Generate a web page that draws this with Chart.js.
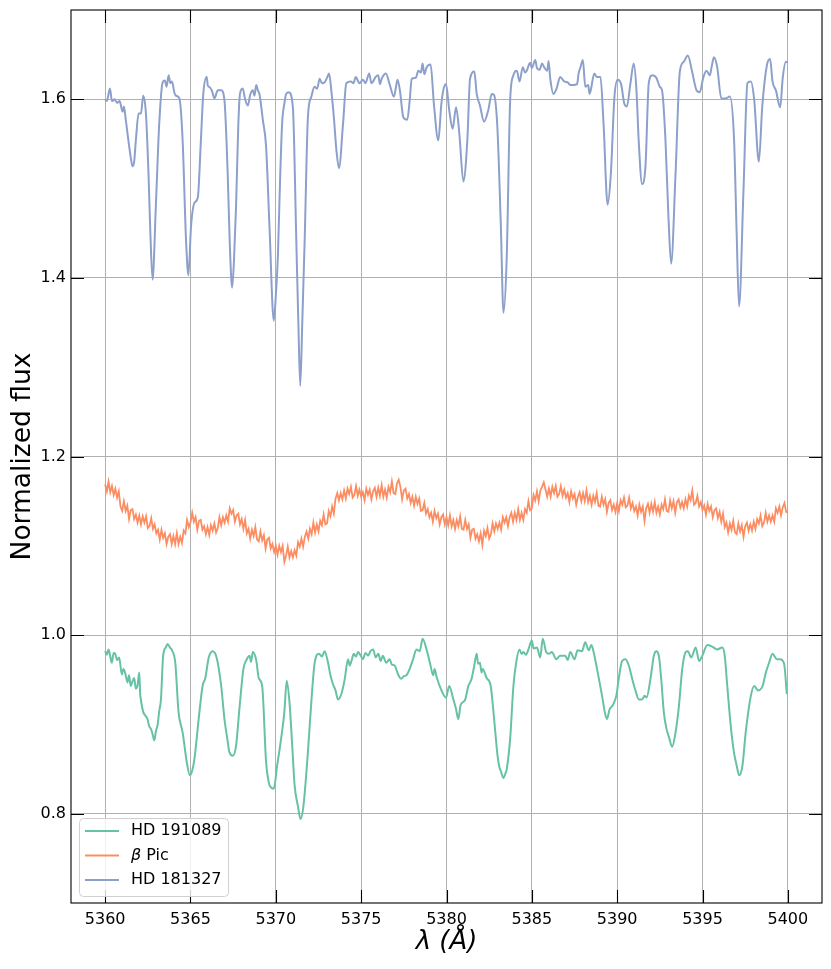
<!DOCTYPE html>
<html>
<head>
<meta charset="utf-8">
<script src="https://cdn.jsdelivr.net/npm/chart.js@4.4.1/dist/chart.umd.min.js"></script>
<style>
  html, body { margin: 0; padding: 0; background: #ffffff; }
  #wrap { width: 831px; height: 969px; position: relative; }
</style>
</head>
<body>
<div id="wrap"><canvas id="c"></canvas></div>
<script>
// ---------------- DATA ----------------
const seriesNames = ["HD 191089", "\u03B2 Pic", "HD 181327"];
const seriesColors = ["#66c2a5", "#fc8d62", "#8da0cb"];

const xTicks = [5360, 5365, 5370, 5375, 5380, 5385, 5390, 5395, 5400];
const yTicks = [0.8, 1.0, 1.2, 1.4, 1.6];

// HD 191089 (green)
const hd191089Wave = [5360.00,5360.10,5360.20,5360.30,5360.39,5360.50,5360.59,5360.70,5360.82,5360.98,5361.07,5361.17,5361.31,5361.40,5361.50,5361.60,5361.70,5361.80,5361.90,5362.00,5362.05,5362.09,5362.23,5362.35,5362.48,5362.58,5362.68,5362.78,5362.88,5362.98,5363.07,5363.17,5363.27,5363.40,5363.55,5363.66,5363.80,5363.92,5364.11,5364.30,5364.54,5364.78,5364.97,5365.10,5365.23,5365.48,5365.71,5365.87,5366.07,5366.30,5366.53,5366.80,5366.99,5367.15,5367.28,5367.48,5367.67,5367.87,5368.10,5368.30,5368.46,5368.55,5368.65,5368.85,5369.00,5369.20,5369.43,5369.60,5369.69,5369.88,5370.08,5370.31,5370.50,5370.64,5370.80,5370.95,5371.10,5371.29,5371.45,5371.62,5371.88,5372.08,5372.27,5372.53,5372.70,5372.86,5373.06,5373.20,5373.35,5373.50,5373.64,5373.84,5374.04,5374.23,5374.33,5374.43,5374.57,5374.70,5374.82,5375.00,5375.10,5375.25,5375.40,5375.55,5375.70,5375.85,5376.00,5376.15,5376.27,5376.47,5376.66,5376.80,5376.96,5377.16,5377.35,5377.50,5377.65,5377.84,5378.04,5378.24,5378.43,5378.60,5378.83,5379.03,5379.22,5379.30,5379.42,5379.71,5379.97,5380.16,5380.40,5380.55,5380.69,5380.83,5381.08,5381.28,5381.47,5381.61,5381.77,5381.85,5381.96,5382.05,5382.12,5382.35,5382.59,5382.79,5382.99,5383.10,5383.18,5383.34,5383.45,5383.53,5383.73,5383.92,5384.08,5384.27,5384.40,5384.51,5384.65,5384.80,5385.00,5385.10,5385.30,5385.49,5385.64,5385.84,5386.00,5386.17,5386.43,5386.66,5386.96,5387.10,5387.25,5387.50,5387.68,5387.94,5388.13,5388.33,5388.49,5388.62,5388.78,5388.97,5389.15,5389.27,5389.40,5389.56,5389.76,5389.96,5390.09,5390.29,5390.49,5390.68,5390.88,5391.07,5391.27,5391.46,5391.60,5391.72,5391.95,5392.15,5392.30,5392.44,5392.58,5392.73,5392.89,5393.03,5393.22,5393.42,5393.62,5393.81,5394.01,5394.14,5394.34,5394.60,5394.80,5394.99,5395.28,5395.57,5395.86,5396.16,5396.30,5396.45,5396.65,5396.84,5397.00,5397.14,5397.34,5397.53,5397.83,5398.03,5398.26,5398.52,5398.71,5398.90,5399.10,5399.35,5399.55,5399.78,5399.94];
const hd191089Flux = [0.982,0.978,0.984,0.976,0.969,0.980,0.979,0.972,0.975,0.956,0.962,0.958,0.947,0.955,0.943,0.948,0.952,0.940,0.944,0.958,0.935,0.928,0.914,0.910,0.906,0.898,0.895,0.889,0.882,0.893,0.899,0.915,0.928,0.977,0.986,0.990,0.986,0.983,0.969,0.914,0.891,0.858,0.843,0.848,0.861,0.906,0.943,0.952,0.975,0.982,0.975,0.943,0.906,0.885,0.869,0.865,0.876,0.918,0.962,0.973,0.977,0.970,0.981,0.972,0.952,0.943,0.858,0.834,0.830,0.828,0.854,0.884,0.914,0.949,0.925,0.880,0.832,0.809,0.794,0.809,0.869,0.925,0.968,0.979,0.976,0.982,0.969,0.955,0.945,0.938,0.928,0.934,0.951,0.973,0.966,0.971,0.979,0.976,0.981,0.976,0.973,0.980,0.977,0.982,0.984,0.975,0.979,0.971,0.977,0.969,0.973,0.967,0.966,0.956,0.951,0.954,0.955,0.962,0.973,0.984,0.982,0.996,0.984,0.969,0.955,0.962,0.953,0.938,0.930,0.943,0.928,0.918,0.906,0.922,0.927,0.943,0.951,0.964,0.979,0.968,0.969,0.958,0.962,0.952,0.943,0.906,0.865,0.852,0.848,0.840,0.845,0.850,0.884,0.943,0.969,0.984,0.979,0.981,0.978,0.984,0.994,0.985,0.986,0.975,0.996,0.981,0.979,0.981,0.973,0.977,0.977,0.972,0.981,0.973,0.983,0.982,0.992,0.983,0.989,0.981,0.966,0.947,0.928,0.914,0.906,0.917,0.922,0.933,0.951,0.971,0.973,0.966,0.951,0.938,0.928,0.928,0.932,0.930,0.951,0.977,0.982,0.977,0.951,0.914,0.895,0.886,0.875,0.891,0.921,0.962,0.981,0.982,0.975,0.986,0.971,0.977,0.989,0.987,0.984,0.986,0.977,0.943,0.899,0.869,0.854,0.843,0.854,0.891,0.932,0.943,0.938,0.943,0.958,0.969,0.979,0.973,0.973,0.968,0.934];

// beta Pic (orange), sampled every 0.1 A
const betaPicWave = [
5360.0,5360.1,5360.2,5360.3,5360.4,5360.5,5360.6,5360.7,5360.8,5360.9,
5361.0,5361.1,5361.2,5361.3,5361.4,5361.5,5361.6,5361.7,5361.8,5361.9,
5362.0,5362.1,5362.2,5362.3,5362.4,5362.5,5362.6,5362.7,5362.8,5362.9,
5363.0,5363.1,5363.2,5363.3,5363.4,5363.5,5363.6,5363.7,5363.8,5363.9,
5364.0,5364.1,5364.2,5364.3,5364.4,5364.5,5364.6,5364.7,5364.8,5364.9,
5365.0,5365.1,5365.2,5365.3,5365.4,5365.5,5365.6,5365.7,5365.8,5365.9,
5366.0,5366.1,5366.2,5366.3,5366.4,5366.5,5366.6,5366.7,5366.8,5366.9,
5367.0,5367.1,5367.2,5367.3,5367.4,5367.5,5367.6,5367.7,5367.8,5367.9,
5368.0,5368.1,5368.2,5368.3,5368.4,5368.5,5368.6,5368.7,5368.8,5368.9,
5369.0,5369.1,5369.2,5369.3,5369.4,5369.5,5369.6,5369.7,5369.8,5369.9,
5370.0,5370.1,5370.2,5370.3,5370.4,5370.5,5370.6,5370.7,5370.8,5370.9,
5371.0,5371.1,5371.2,5371.3,5371.4,5371.5,5371.6,5371.7,5371.8,5371.9,
5372.0,5372.1,5372.2,5372.3,5372.4,5372.5,5372.6,5372.7,5372.8,5372.9,
5373.0,5373.1,5373.2,5373.3,5373.4,5373.5,5373.6,5373.7,5373.8,5373.9,
5374.0,5374.1,5374.2,5374.3,5374.4,5374.5,5374.6,5374.7,5374.8,5374.9,
5375.0,5375.1,5375.2,5375.3,5375.4,5375.5,5375.6,5375.7,5375.8,5375.9,
5376.0,5376.1,5376.2,5376.3,5376.4,5376.5,5376.6,5376.7,5376.8,5376.9,
5377.0,5377.1,5377.2,5377.3,5377.4,5377.5,5377.6,5377.7,5377.8,5377.9,
5378.0,5378.1,5378.2,5378.3,5378.4,5378.5,5378.6,5378.7,5378.8,5378.9,
5379.0,5379.1,5379.2,5379.3,5379.4,5379.5,5379.6,5379.7,5379.8,5379.9,
5380.0,5380.1,5380.2,5380.3,5380.4,5380.5,5380.6,5380.7,5380.8,5380.9,
5381.0,5381.1,5381.2,5381.3,5381.4,5381.5,5381.6,5381.7,5381.8,5381.9,
5382.0,5382.1,5382.2,5382.3,5382.4,5382.5,5382.6,5382.7,5382.8,5382.9,
5383.0,5383.1,5383.2,5383.3,5383.4,5383.5,5383.6,5383.7,5383.8,5383.9,
5384.0,5384.1,5384.2,5384.3,5384.4,5384.5,5384.6,5384.7,5384.8,5384.9,
5385.0,5385.1,5385.2,5385.3,5385.4,5385.5,5385.6,5385.7,5385.8,5385.9,
5386.0,5386.1,5386.2,5386.3,5386.4,5386.5,5386.6,5386.7,5386.8,5386.9,
5387.0,5387.1,5387.2,5387.3,5387.4,5387.5,5387.6,5387.7,5387.8,5387.9,
5388.0,5388.1,5388.2,5388.3,5388.4,5388.5,5388.6,5388.7,5388.8,5388.9,
5389.0,5389.1,5389.2,5389.3,5389.4,5389.5,5389.6,5389.7,5389.8,5389.9,
5390.0,5390.1,5390.2,5390.3,5390.4,5390.5,5390.6,5390.7,5390.8,5390.9,
5391.0,5391.1,5391.2,5391.3,5391.4,5391.5,5391.6,5391.7,5391.8,5391.9,
5392.0,5392.1,5392.2,5392.3,5392.4,5392.5,5392.6,5392.7,5392.8,5392.9,
5393.0,5393.1,5393.2,5393.3,5393.4,5393.5,5393.6,5393.7,5393.8,5393.9,
5394.0,5394.1,5394.2,5394.3,5394.4,5394.5,5394.6,5394.7,5394.8,5394.9,
5395.0,5395.1,5395.2,5395.3,5395.4,5395.5,5395.6,5395.7,5395.8,5395.9,
5396.0,5396.1,5396.2,5396.3,5396.4,5396.5,5396.6,5396.7,5396.8,5396.9,
5397.0,5397.1,5397.2,5397.3,5397.4,5397.5,5397.6,5397.7,5397.8,5397.9,
5398.0,5398.1,5398.2,5398.3,5398.4,5398.5,5398.6,5398.7,5398.8,5398.9,
5399.0,5399.1,5399.2,5399.3,5399.4,5399.5,5399.6,5399.7,5399.8,5399.9,
5400.0];
const betaPicFlux = [
1.169,1.161,1.172,1.160,1.167,1.157,1.164,1.154,1.161,1.144,
1.139,1.150,1.139,1.145,1.130,1.140,1.141,1.130,1.135,1.126,
1.134,1.124,1.133,1.126,1.133,1.120,1.122,1.131,1.119,1.124,
1.114,1.118,1.107,1.118,1.109,1.114,1.102,1.110,1.113,1.102,
1.111,1.102,1.114,1.102,1.110,1.103,1.117,1.114,1.129,1.121,
1.126,1.137,1.127,1.132,1.118,1.128,1.129,1.118,1.122,1.113,
1.121,1.112,1.123,1.117,1.125,1.115,1.120,1.132,1.123,1.132,
1.126,1.134,1.127,1.142,1.136,1.140,1.127,1.134,1.136,1.124,
1.130,1.119,1.129,1.114,1.119,1.108,1.118,1.111,1.121,1.107,
1.105,1.116,1.106,1.112,1.097,1.107,1.109,1.097,1.102,1.093,
1.100,1.090,1.100,1.093,1.100,1.082,1.089,1.099,1.087,1.094,
1.087,1.095,1.089,1.104,1.099,1.108,1.099,1.110,1.116,1.108,
1.119,1.113,1.126,1.115,1.124,1.116,1.128,1.123,1.135,1.124,
1.125,1.139,1.133,1.144,1.136,1.153,1.159,1.151,1.159,1.152,
1.162,1.153,1.164,1.158,1.166,1.154,1.157,1.167,1.156,1.163,
1.155,1.160,1.151,1.164,1.157,1.163,1.152,1.161,1.165,1.155,
1.165,1.156,1.168,1.155,1.163,1.154,1.166,1.160,1.172,1.159,
1.158,1.170,1.174,1.166,1.152,1.162,1.164,1.153,1.158,1.148,
1.155,1.145,1.155,1.147,1.153,1.139,1.140,1.148,1.136,1.141,
1.132,1.137,1.127,1.139,1.131,1.136,1.124,1.132,1.135,1.124,
1.132,1.123,1.134,1.122,1.129,1.119,1.129,1.122,1.133,1.119,
1.118,1.129,1.119,1.124,1.109,1.118,1.119,1.108,1.113,1.105,
1.114,1.101,1.117,1.111,1.120,1.108,1.113,1.125,1.116,1.125,
1.119,1.126,1.118,1.132,1.126,1.132,1.122,1.132,1.137,1.127,
1.137,1.129,1.141,1.129,1.137,1.129,1.141,1.137,1.150,1.140,
1.142,1.157,1.151,1.161,1.150,1.162,1.166,1.171,1.163,1.155,
1.164,1.155,1.166,1.159,1.167,1.155,1.158,1.167,1.156,1.163,
1.154,1.159,1.149,1.161,1.153,1.158,1.146,1.155,1.160,1.150,
1.159,1.150,1.162,1.149,1.156,1.146,1.156,1.149,1.159,1.145,
1.144,1.155,1.146,1.152,1.138,1.148,1.151,1.140,1.146,1.138,
1.148,1.139,1.151,1.146,1.154,1.143,1.145,1.154,1.142,1.148,
1.139,1.144,1.134,1.146,1.138,1.144,1.128,1.142,1.147,1.137,
1.147,1.138,1.149,1.137,1.144,1.135,1.146,1.141,1.152,1.139,
1.138,1.151,1.142,1.150,1.137,1.149,1.152,1.143,1.149,1.142,
1.152,1.144,1.156,1.151,1.162,1.146,1.148,1.156,1.144,1.149,
1.140,1.145,1.135,1.147,1.139,1.144,1.132,1.140,1.142,1.131,
1.138,1.127,1.136,1.121,1.126,1.115,1.125,1.118,1.128,1.115,
1.113,1.125,1.116,1.123,1.110,1.122,1.126,1.117,1.124,1.117,
1.127,1.119,1.130,1.125,1.134,1.122,1.126,1.137,1.127,1.134,
1.127,1.134,1.127,1.142,1.137,1.144,1.134,1.143,1.148,1.138,
1.137];

// HD 181327 (blue)
const hd181327Wave = [5360.00,5360.10,5360.28,5360.40,5360.55,5360.70,5360.85,5361.02,5361.10,5361.21,5361.41,5361.50,5361.60,5361.70,5361.80,5361.96,5362.10,5362.23,5362.39,5362.54,5362.65,5362.78,5362.97,5363.17,5363.37,5363.50,5363.60,5363.72,5363.82,5363.92,5364.05,5364.15,5364.35,5364.54,5364.74,5364.88,5365.03,5365.23,5365.43,5365.61,5365.75,5365.95,5366.02,5366.10,5366.25,5366.40,5366.60,5366.80,5366.99,5367.18,5367.30,5367.44,5367.55,5367.67,5367.80,5367.90,5368.06,5368.20,5368.36,5368.50,5368.65,5368.75,5368.85,5368.95,5369.04,5369.24,5369.43,5369.63,5369.88,5370.00,5370.12,5370.25,5370.37,5370.50,5370.61,5370.76,5371.00,5371.20,5371.32,5371.43,5371.55,5371.69,5371.88,5372.08,5372.27,5372.42,5372.57,5372.70,5372.86,5373.00,5373.12,5373.25,5373.40,5373.55,5373.70,5373.94,5374.13,5374.40,5374.55,5374.68,5374.90,5375.10,5375.25,5375.47,5375.60,5375.70,5375.85,5376.00,5376.10,5376.20,5376.45,5376.68,5376.92,5377.05,5377.13,5377.27,5377.47,5377.70,5377.85,5377.96,5378.20,5378.35,5378.50,5378.60,5378.70,5378.84,5379.07,5379.26,5379.52,5379.70,5379.81,5379.97,5380.16,5380.36,5380.56,5380.75,5380.99,5381.22,5381.38,5381.63,5381.77,5381.96,5382.20,5382.45,5382.65,5382.78,5382.98,5383.18,5383.34,5383.53,5383.73,5383.92,5384.12,5384.28,5384.47,5384.60,5384.70,5384.90,5385.00,5385.20,5385.30,5385.45,5385.60,5385.72,5385.90,5385.98,5386.08,5386.27,5386.45,5386.66,5386.90,5387.10,5387.25,5387.44,5387.65,5387.74,5387.85,5387.99,5388.13,5388.30,5388.38,5388.45,5388.66,5388.80,5389.02,5389.20,5389.44,5389.63,5389.84,5390.03,5390.23,5390.42,5390.57,5390.77,5390.97,5391.13,5391.26,5391.46,5391.66,5391.85,5392.05,5392.30,5392.50,5392.63,5392.83,5393.00,5393.16,5393.42,5393.67,5393.90,5394.14,5394.39,5394.65,5394.84,5395.04,5395.23,5395.43,5395.55,5395.67,5395.86,5396.10,5396.35,5396.60,5396.85,5397.00,5397.14,5397.40,5397.63,5397.83,5398.03,5398.30,5398.50,5398.77,5398.96,5399.10,5399.30,5399.55,5399.70,5399.88,5400.00];
const hd181327Flux = [1.600,1.598,1.612,1.598,1.600,1.596,1.598,1.586,1.592,1.577,1.547,1.535,1.525,1.530,1.554,1.584,1.584,1.604,1.584,1.517,1.450,1.398,1.480,1.573,1.619,1.621,1.614,1.627,1.618,1.620,1.608,1.604,1.601,1.554,1.442,1.403,1.457,1.484,1.490,1.554,1.606,1.625,1.615,1.614,1.610,1.601,1.610,1.610,1.599,1.517,1.440,1.389,1.420,1.480,1.570,1.606,1.612,1.600,1.593,1.605,1.610,1.604,1.616,1.610,1.606,1.577,1.547,1.457,1.352,1.380,1.424,1.510,1.573,1.595,1.606,1.608,1.591,1.442,1.350,1.279,1.350,1.442,1.580,1.603,1.614,1.612,1.623,1.618,1.619,1.624,1.629,1.610,1.580,1.543,1.523,1.573,1.618,1.620,1.618,1.625,1.618,1.622,1.618,1.629,1.618,1.620,1.625,1.627,1.617,1.623,1.629,1.616,1.603,1.615,1.622,1.610,1.580,1.577,1.600,1.623,1.624,1.632,1.630,1.640,1.628,1.636,1.639,1.595,1.554,1.595,1.610,1.617,1.588,1.567,1.591,1.562,1.508,1.554,1.623,1.631,1.606,1.593,1.575,1.588,1.606,1.605,1.569,1.461,1.361,1.424,1.599,1.627,1.632,1.620,1.636,1.630,1.632,1.641,1.635,1.644,1.635,1.633,1.640,1.636,1.632,1.643,1.623,1.606,1.612,1.625,1.620,1.619,1.616,1.616,1.617,1.629,1.636,1.644,1.614,1.616,1.606,1.610,1.629,1.625,1.625,1.573,1.482,1.517,1.603,1.622,1.617,1.595,1.592,1.617,1.640,1.610,1.554,1.505,1.526,1.618,1.627,1.624,1.614,1.610,1.554,1.470,1.416,1.517,1.631,1.642,1.649,1.631,1.610,1.608,1.624,1.632,1.627,1.638,1.647,1.636,1.601,1.601,1.603,1.554,1.450,1.368,1.498,1.618,1.620,1.599,1.530,1.592,1.638,1.645,1.620,1.610,1.591,1.624,1.642,1.641];

// ---------------- CHART ----------------
function pairs(xs, ys) { return xs.map((x, i) => ({ x: x, y: ys[i] })); }

const FONT = "'DejaVu Sans', 'Liberation Sans', sans-serif";
const PLOT = { left: 71, right: 822, top: 10, bottom: 903 };
const TICK_LEN = 13;

const framePlugin = {
  id: 'frameTicksLegend',
  afterDatasetsDraw(chart) {
    const ctx = chart.ctx;
    const a = chart.chartArea;
    const xs = chart.scales.x, ys = chart.scales.y;
    ctx.save();
    ctx.strokeStyle = '#000000';
    ctx.lineWidth = 1.1;
    ctx.strokeRect(a.left, a.top, a.right - a.left, a.bottom - a.top);
    ctx.beginPath();
    xTicks.forEach(v => {
      const px = Math.round(xs.getPixelForValue(v)) + 0.5;
      ctx.moveTo(px, a.bottom); ctx.lineTo(px, a.bottom - TICK_LEN);
      ctx.moveTo(px, a.top); ctx.lineTo(px, a.top + TICK_LEN);
    });
    yTicks.forEach(v => {
      const py = Math.round(ys.getPixelForValue(v)) + 0.5;
      ctx.moveTo(a.left, py); ctx.lineTo(a.left + TICK_LEN, py);
      ctx.moveTo(a.right, py); ctx.lineTo(a.right - TICK_LEN, py);
    });
    ctx.stroke();

    // legend box (lower left)
    const bx = 79.5, by = 818.5, bw = 149, bh = 78, r = 4;
    ctx.beginPath();
    ctx.moveTo(bx + r, by);
    ctx.lineTo(bx + bw - r, by); ctx.arcTo(bx + bw, by, bx + bw, by + r, r);
    ctx.lineTo(bx + bw, by + bh - r); ctx.arcTo(bx + bw, by + bh, bx + bw - r, by + bh, r);
    ctx.lineTo(bx + r, by + bh); ctx.arcTo(bx, by + bh, bx, by + bh - r, r);
    ctx.lineTo(bx, by + r); ctx.arcTo(bx, by, bx + r, by, r);
    ctx.closePath();
    ctx.fillStyle = 'rgba(255,255,255,0.8)';
    ctx.fill();
    ctx.strokeStyle = '#d0d0d0';
    ctx.lineWidth = 1;
    ctx.stroke();

    const rowsY = [831, 855.5, 880];
    chart.data.datasets.forEach((ds, i) => {
      const y = rowsY[i];
      ctx.strokeStyle = ds.borderColor;
      ctx.lineWidth = 2;
      ctx.beginPath();
      ctx.moveTo(85, y); ctx.lineTo(119, y);
      ctx.stroke();
      ctx.fillStyle = '#000000';
      ctx.textBaseline = 'middle';
      ctx.textAlign = 'left';
      const label = ds.label;
      if (label.charAt(0) === '\u03B2') {
        ctx.font = 'italic 16px ' + FONT;
        ctx.fillText('\u03B2', 131, y);
        const w = ctx.measureText('\u03B2').width;
        ctx.font = '16px ' + FONT;
        ctx.fillText(label.slice(1), 131 + w, y);
      } else {
        ctx.font = '16px ' + FONT;
        ctx.fillText(label, 131, y);
      }
    });
    ctx.restore();
  }
};

const ctx = document.getElementById('c').getContext('2d');
new Chart(ctx, {
  type: 'line',
  data: {
    datasets: [
      { label: seriesNames[0], data: pairs(hd191089Wave, hd191089Flux), borderColor: seriesColors[0], cubicInterpolationMode: 'monotone' },
      { label: seriesNames[1], data: pairs(betaPicWave, betaPicFlux), borderColor: seriesColors[1], borderWidth: 1.8 },
      { label: seriesNames[2], data: pairs(hd181327Wave, hd181327Flux), borderColor: seriesColors[2], cubicInterpolationMode: 'monotone' }
    ]
  },
  options: {
    responsive: true,
    maintainAspectRatio: false,
    animation: false,
    devicePixelRatio: 1,
    layout: { padding: { top: PLOT.top, right: 831 - PLOT.right, left: 0, bottom: 0 } },
    elements: {
      line: { borderWidth: 2, tension: 0, fill: false },
      point: { radius: 0, hoverRadius: 0 }
    },
    plugins: {
      legend: { display: false },
      tooltip: { enabled: false }
    },
    scales: {
      x: {
        type: 'linear',
        min: 5358,
        max: 5402,
        afterBuildTicks: s => { s.ticks = xTicks.map(v => ({ value: v })); },
        afterFit: s => { s.height = 969 - PLOT.bottom; s.paddingLeft = 0; s.paddingRight = 0; },
        grid: { color: '#b0b0b0', lineWidth: 1, drawTicks: false },
        border: { display: false },
        ticks: {
          color: '#000000',
          padding: 7,
          maxRotation: 0,
          autoSkip: false,
          font: { family: FONT, size: 16 },
          callback: v => String(v)
        },
        title: {
          display: true,
          text: '\u03BB (\u00C5)',
          color: '#000000',
          font: { family: FONT, size: 26, style: 'italic' },
          padding: { top: 0, bottom: 11 }
        }
      },
      y: {
        type: 'linear',
        min: 0.7,
        max: 1.7,
        afterBuildTicks: s => { s.ticks = yTicks.map(v => ({ value: v })); },
        afterFit: s => { s.width = PLOT.left; s.paddingTop = 0; s.paddingBottom = 0; },
        grid: { color: '#b0b0b0', lineWidth: 1, drawTicks: false },
        border: { display: false },
        ticks: {
          color: '#000000',
          padding: 5,
          autoSkip: false,
          font: { family: FONT, size: 16 },
          callback: v => v.toFixed(1)
        },
        title: {
          display: true,
          text: 'Normalized flux',
          color: '#000000',
          font: { family: FONT, size: 26.5 },
          padding: { top: 7, bottom: 0 }
        }
      }
    }
  },
  plugins: [framePlugin]
});
</script>
</body>
</html>
